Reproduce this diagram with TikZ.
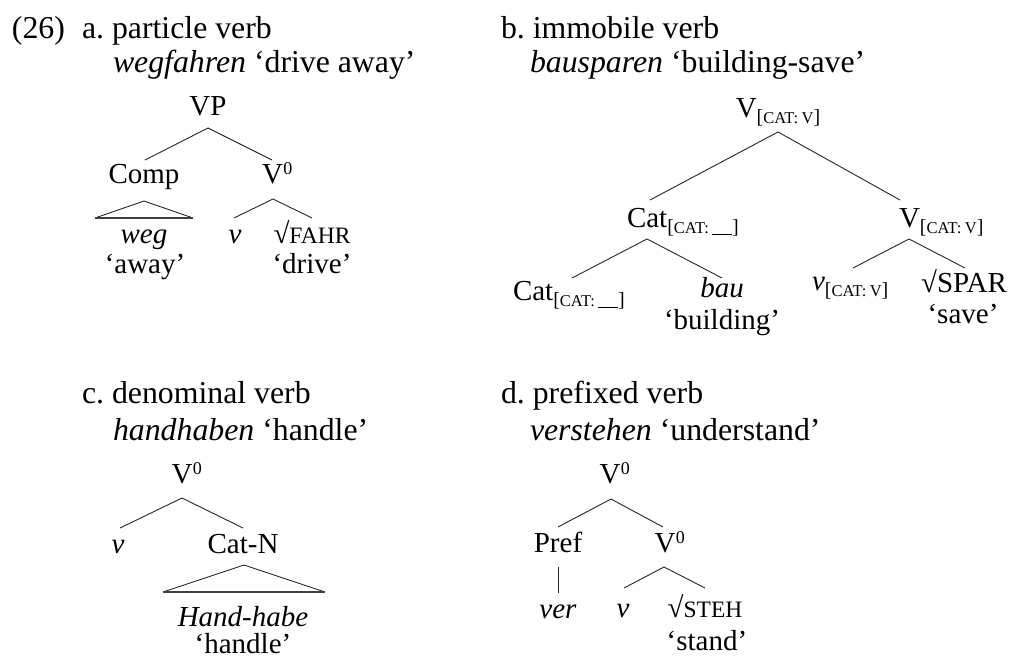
\documentclass[tikz,border=0pt]{standalone}
\usepackage{fontspec}
\setmainfont{Liberation Serif}
\frenchspacing
\newcommand\hdrf{\fontsize{31.8}{38}\selectfont}
\newcommand\trf{\fontsize{29}{35}\selectfont}
\newcommand\fakesc[1]{{\fontsize{16.5}{18}\selectfont #1}}
\newcommand\catsub[1]{\raisebox{-6pt}{\fontsize{20}{22}\selectfont[\fakesc{CAT:}\,#1]}}
\newcommand\blank{\rule[-1.5pt]{20pt}{0.9pt}}
\newcommand\rootsc[1]{√{\fontsize{23.5}{25}\selectfont #1}}
\newcommand\zr{\kern0.5pt\raisebox{9pt}{\fontsize{18}{18}\selectfont 0}}
\tikzset{
  hd/.style={inner sep=0pt, outer sep=0pt, anchor=base west, font=\hdrf},
  tx/.style={inner sep=0pt, outer sep=0pt, anchor=base, font=\trf},
  edge/.style={line width=0.9pt, black!85},
  tribase/.style={line width=1.4pt, black!75}
}
\begin{document}
\begin{tikzpicture}[x=1pt,y=-1pt]
\useasboundingbox (0,0) rectangle (1031,659);
% headers
\node[hd] (num) at (12,38) {(26)};
\node[hd] (ha1) at (82,38) {a. particle verb};
\node[hd] (ha2) at (113,72) {\textit{wegfahren} ‘drive away’};
\node[hd] (hb1) at (501,38) {b. immobile verb};
\node[hd] (hb2) at (530,72) {\textit{bausparen} ‘building-save’};
\node[hd] (hc1) at (82,403) {c. denominal verb};
\node[hd] (hc2) at (113,440) {\textit{handhaben} ‘handle’};
\node[hd] (hd1) at (501,403) {d. prefixed verb};
\node[hd] (hd2) at (530,440) {\textit{verstehen} ‘understand’};

% ---------- tree a
\node[tx] (aVP) at (208,115) {VP};
\node[tx] (aComp) at (144,183) {Comp};
\node[tx,anchor=base west] (aV) at (262,183) {V\zr};
\node[tx] (aweg) at (144,243) {\textit{weg}};
\node[tx] (aaway) at (145,273) {‘away’};
\node[tx] (av) at (235,243) {\textit{v}};
\node[tx] (afahr) at (312,243) {\rootsc{FAHR}};
\node[tx] (adrive) at (312,273) {‘drive’};
\coordinate (aVPt) at (208,128);
\coordinate (aVPl) at (145,160);
\coordinate (aVPr) at (272,160);
\coordinate (aCt) at (144,201);
\coordinate (aCl) at (95,218);
\coordinate (aCr) at (193,218);
\coordinate (aVt) at (273,199);
\coordinate (aVl) at (234,218);
\coordinate (aVr) at (312,218);
\draw[edge] (aVPl) -- (aVPt) -- (aVPr);
\draw[edge] (aCl) -- (aCt) -- (aCr);
\draw[tribase] (aCl) -- (aCr);
\draw[edge] (aVl) -- (aVt) -- (aVr);

% ---------- tree b
\node[tx] (bV) at (778,117) {V\catsub{\fakesc{V}}};
\node[tx,anchor=base west] (bCat) at (627,227) {Cat\catsub{\blank}};
\node[tx,anchor=base west] (bV2) at (899,227) {V\catsub{\fakesc{V}}};
\node[tx,anchor=base west] (bCat2) at (513,300) {Cat\catsub{\blank}};
\node[tx] (bbau) at (722,297) {\textit{bau}};
\node[tx] (bbuild) at (722,329) {‘building’};
\node[tx,anchor=base west] (bv) at (812,290) {\textit{v}\catsub{\fakesc{V}}};
\node[tx] (bspar) at (964,292) {√SPAR};
\node[tx] (bsave) at (963,323) {‘save’};
\coordinate (bVt) at (778,132);
\coordinate (bVl) at (650,200);
\coordinate (bVr) at (900,200);
\coordinate (bCt) at (647,239);
\coordinate (bCl) at (572,278);
\coordinate (bCr) at (722,278);
\coordinate (bV2t) at (909,239);
\coordinate (bV2l) at (853,268);
\coordinate (bV2r) at (965,268);
\draw[edge] (bVl) -- (bVt) -- (bVr);
\draw[edge] (bCl) -- (bCt) -- (bCr);
\draw[edge] (bV2l) -- (bV2t) -- (bV2r);

% ---------- tree c
\node[tx,anchor=base west] (cV) at (171.5,483) {V\zr};
\node[tx] (cv) at (118,553) {\textit{v}};
\node[tx] (cCat) at (243,553) {Cat-N};
\node[tx] (chand) at (243,626) {\textit{Hand-habe}};
\node[tx] (chandle) at (243,653) {‘handle’};
\coordinate (cVt) at (182,498);
\coordinate (cVl) at (120,528);
\coordinate (cVr) at (243,528);
\coordinate (cCt) at (244,565);
\coordinate (cCl) at (163,592);
\coordinate (cCr) at (325,592);
\draw[edge] (cVl) -- (cVt) -- (cVr);
\draw[edge] (cCl) -- (cCt) -- (cCr);
\draw[tribase] (cCl) -- (cCr);

% ---------- tree d
\node[tx,anchor=base west] (dV) at (599.5,483) {V\zr};
\node[tx] (dPref) at (558,552) {Pref};
\node[tx,anchor=base west] (dV2) at (654.5,552) {V\zr};
\node[tx] (dver) at (558,618) {\textit{ver}};
\node[tx] (dv) at (623,617) {\textit{v}};
\node[tx] (dsteh) at (705,617) {\rootsc{STEH}};
\node[tx] (dstand) at (707,650) {‘stand’};
\coordinate (dVt) at (611,499);
\coordinate (dVl) at (558,527);
\coordinate (dVr) at (663,527);
\coordinate (dPt) at (558,567);
\coordinate (dPb) at (558,593);
\coordinate (dV2t) at (664,567);
\coordinate (dV2l) at (624,588);
\coordinate (dV2r) at (705,588);
\draw[edge] (dVl) -- (dVt) -- (dVr);
\draw[edge] (dPt) -- (dPb);
\draw[edge] (dV2l) -- (dV2t) -- (dV2r);
\end{tikzpicture}
\end{document}
